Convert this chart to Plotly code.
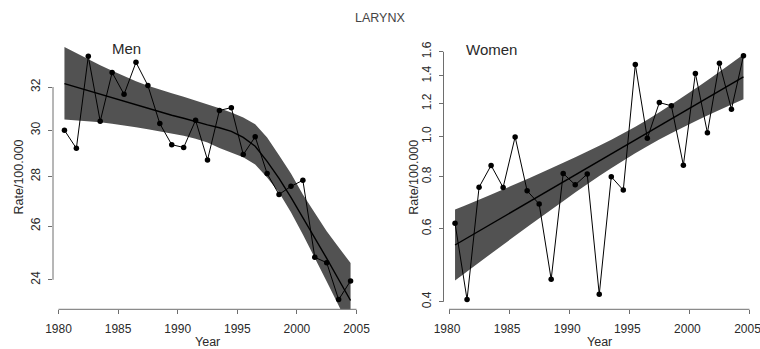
import plotly.graph_objects as go

# ---------------- data ----------------
years = [y + 0.5 for y in range(1980, 2005)]          # mid-year positions
x_ticks = [1980, 1985, 1990, 1995, 2000, 2005]

men_rate = [30.0, 29.2, 33.5, 30.4, 32.7, 31.65, 33.2, 32.07, 30.3, 29.36,
            29.24, 30.45, 28.7, 30.9, 31.03, 28.93, 29.71, 28.12, 27.26, 27.59,
            27.84, 24.82, 24.62, 23.3, 23.96]
men_fit = [32.16, 31.99, 31.83, 31.66, 31.50, 31.33, 31.17, 31.01, 30.85, 30.68,
           30.54, 30.38, 30.24, 30.11, 29.95, 29.68, 29.29, 28.64, 27.92, 27.14,
           26.34, 25.56, 24.78, 24.01, 23.27]
men_upper = [33.97, 33.65, 33.35, 33.05, 32.78, 32.52, 32.27, 32.06, 31.87, 31.70,
             31.54, 31.37, 31.18, 31.00, 30.81, 30.58, 30.27, 29.68, 28.90, 28.13,
             27.26, 26.50, 25.80, 25.19, 24.61]
men_lower = [30.48, 30.45, 30.40, 30.36, 30.29, 30.22, 30.13, 30.04, 29.95, 29.86,
             29.75, 29.62, 29.46, 29.22, 29.03, 28.81, 28.51, 27.96, 27.34, 26.54,
             25.68, 24.81, 23.94, 23.10, 22.25]
men_y_ticks = [24, 26, 28, 30, 32]
men_y_ticktext = ["24", "26", "28", "30", "32"]

women_rate = [0.618, 0.405, 0.755, 0.852, 0.754, 0.998, 0.740, 0.688, 0.453, 0.815,
              0.765, 0.812, 0.417, 0.800, 0.743, 1.491, 0.990, 1.207, 1.186, 0.853,
              1.419, 1.021, 1.502, 1.164, 1.564]
women_fit_years = [1980.5, 2004.5]
women_fit = [0.548, 1.392]
women_band_years = [1980.5, 1984.5, 1988.5, 1992.5, 1996.5, 2000.5, 2004.5]
women_upper = [0.667, 0.746, 0.839, 0.950, 1.098, 1.305, 1.577]
women_lower = [0.450, 0.549, 0.666, 0.803, 0.948, 1.088, 1.229]
women_y_ticks = [0.4, 0.6, 0.8, 1.0, 1.2, 1.4, 1.6]
women_y_ticktext = ["0.4", "0.6", "0.8", "1.0", "1.2", "1.4", "1.6"]

title_text = "LARYNX"
panel_titles = ["Men", "Women"]
x_title = "Year"
y_title = "Rate/100.000"

# ---------------- styling ----------------
# the page body margin is removed by a post script, so figure pixels = page pixels
W, H = 760, 349
FONT = "Liberation Sans, Arial, Helvetica, sans-serif"
TXT = "#2a2a2a"
AX = "#6e6e6e"
BAND = "#525252"

fig = go.Figure()

def add_panel(xa, ya, bx, bup, blo, fx, fy, rate, shape):
    fig.add_trace(go.Scatter(x=bx, y=blo, mode="lines", line=dict(width=0, shape=shape),
                             xaxis=xa, yaxis=ya, hoverinfo="skip", showlegend=False))
    fig.add_trace(go.Scatter(x=bx, y=bup, mode="lines", line=dict(width=0, shape=shape),
                             fill="tonexty", fillcolor=BAND,
                             xaxis=xa, yaxis=ya, hoverinfo="skip", showlegend=False))
    fig.add_trace(go.Scatter(x=fx, y=fy, mode="lines", line=dict(color="black", width=1.4),
                             xaxis=xa, yaxis=ya, showlegend=False))
    fig.add_trace(go.Scatter(x=years, y=rate, mode="lines+markers",
                             line=dict(color="black", width=1),
                             marker=dict(color="black", size=5.5),
                             xaxis=xa, yaxis=ya, showlegend=False, cliponaxis=False))

add_panel("x", "y", years, men_upper, men_lower, years, men_fit, men_rate, "linear")
add_panel("x2", "y2", women_band_years, women_upper, women_lower,
          women_fit_years, women_fit, women_rate, "spline")

# plot regions in pixels
men_l, men_r = 53, 362
wom_l, wom_r = 443.5, 755
top, bot = 46, 309.3
ydom = [(H - bot) / H, (H - top) / H]

xcommon = dict(range=[1979.54, 2005.46], tickvals=x_ticks, ticks="outside", ticklen=4,
               tickcolor=AX, tickwidth=1, showline=False, showgrid=False, zeroline=False,
               automargin=False, ticklabeloverflow="allow",
               tickfont=dict(family=FONT, size=12, color=TXT), ticklabelstandoff=4)
ycommon = dict(type="log", ticks="outside", ticklen=4, tickcolor=AX, tickwidth=1,
               showline=False, showgrid=False, zeroline=False, tickangle=-90,
               automargin=False, ticklabeloverflow="allow",
               tickfont=dict(family=FONT, size=12, color=TXT), ticklabelstandoff=3)

fig.update_layout(
    template="none",
    width=W, height=H, margin=dict(l=0, r=0, t=0, b=0, pad=0, autoexpand=False),
    paper_bgcolor="white", plot_bgcolor="white", showlegend=False,
    xaxis=dict(domain=[men_l / W, men_r / W], anchor="y", **xcommon),
    yaxis=dict(domain=ydom, anchor="x", range=[1.36108, 1.53172],
               tickvals=men_y_ticks, ticktext=men_y_ticktext, **ycommon),
    xaxis2=dict(domain=[wom_l / W, wom_r / W], anchor="y2", ticklabelshift=-2, **xcommon),
    yaxis2=dict(domain=ydom, anchor="x2", range=[-0.4160, 0.2180],
                tickvals=women_y_ticks, ticktext=women_y_ticktext, **ycommon),
)

# R-style axis lines spanning first to last tick
shapes = []
for xa, ya, yt in [("x", "y", men_y_ticks), ("x2", "y2", women_y_ticks)]:
    shapes.append(dict(type="line", xref=xa, yref=f"{ya} domain",
                       x0=x_ticks[0], x1=x_ticks[-1], y0=0, y1=0,
                       line=dict(color=AX, width=1)))
    shapes.append(dict(type="line", xref=f"{xa} domain", yref=ya,
                       x0=0, x1=0, y0=yt[0], y1=yt[-1],
                       line=dict(color=AX, width=1)))
fig.update_layout(shapes=shapes)

def note(text, x, y, size, color=TXT, angle=0):
    return dict(text=text, x=x / W, y=(H - y) / H, xref="paper", yref="paper",
                xanchor="center", yanchor="middle", textangle=angle, showarrow=False,
                font=dict(family=FONT, size=size, color=color))

ann = [
    note(title_text, 380, 18, 12.5, "#444444"),
    note(panel_titles[0], 126.7, 48.3, 15),
    note(panel_titles[1], 491.7, 49.3, 15),
    note(x_title, 207.5, 342, 12.5),
    note(x_title, 599, 342, 12.5),
    note(y_title, 18, 177.5, 12.5, angle=-90),
    note(y_title, 413.3, 177.5, 12.5, angle=-90),
]
fig.update_layout(annotations=ann)

fig.write_html(
    "out.html",
    config={"displayModeBar": False, "staticPlot": True},
    post_script="document.body.style.margin='0';document.body.style.overflow='hidden';",
)
